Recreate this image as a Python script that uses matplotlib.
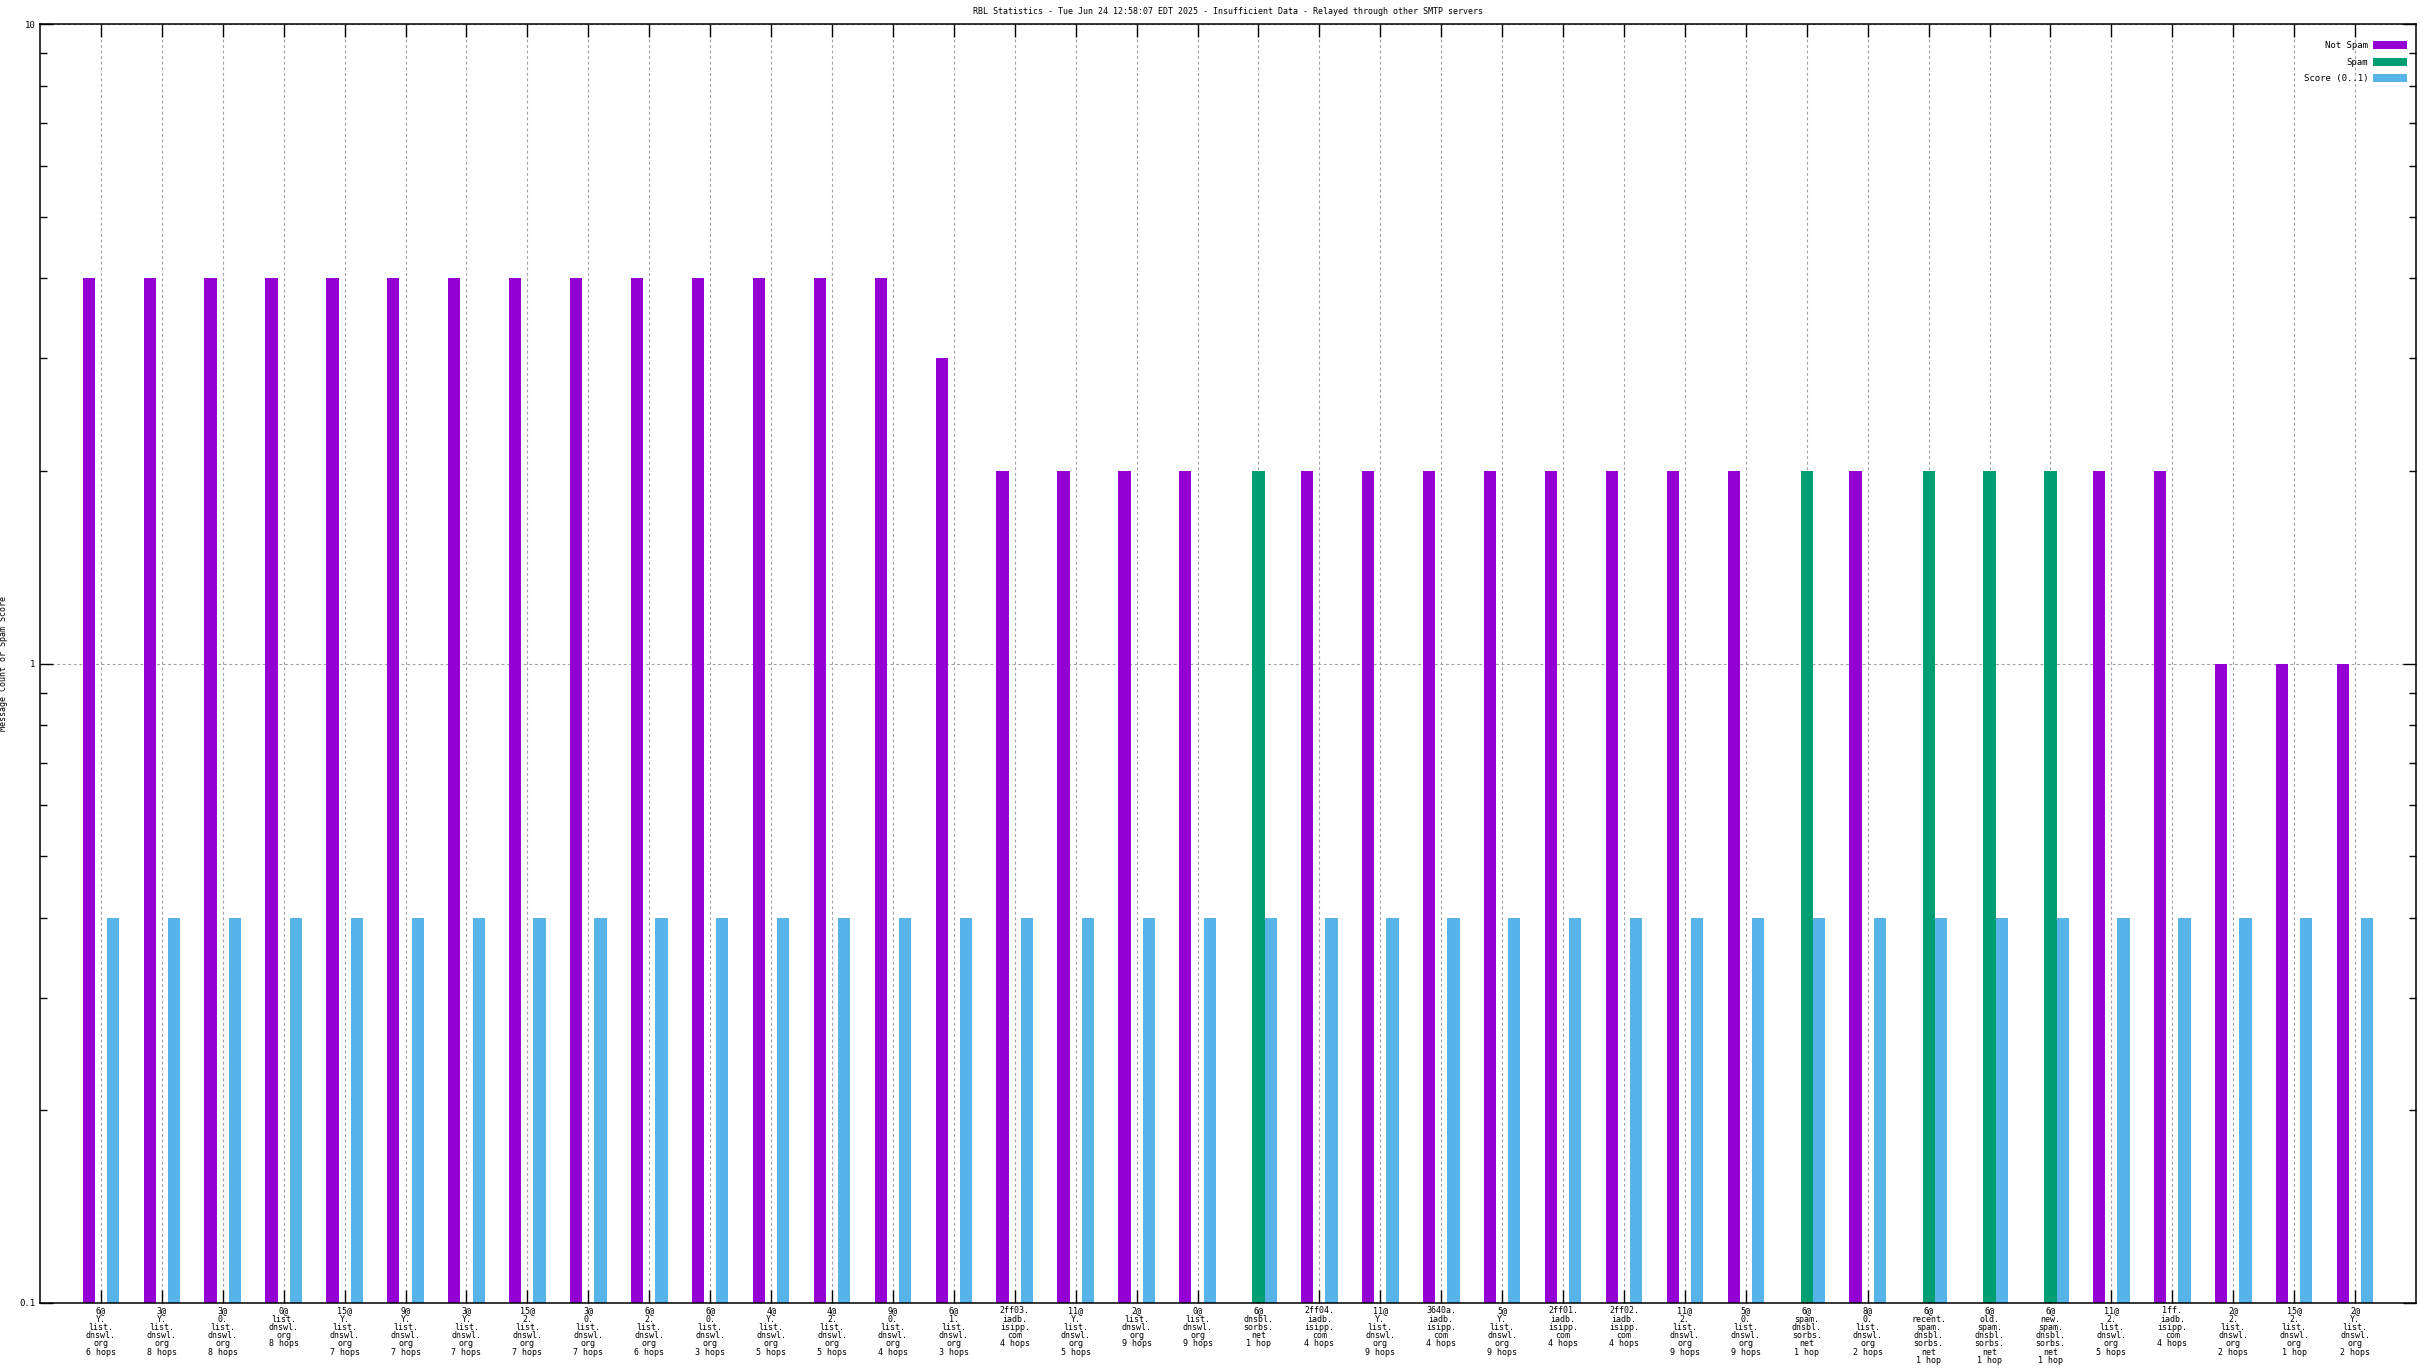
import matplotlib
matplotlib.use("Agg")
import matplotlib.pyplot as plt
import numpy as np
from matplotlib.ticker import FixedLocator, NullFormatter, LogLocator

# categories (x axis labels)
categories = [
    "6@\nY.\nlist.\ndnswl.\norg\n6 hops",
    "3@\nY.\nlist.\ndnswl.\norg\n8 hops",
    "3@\n0.\nlist.\ndnswl.\norg\n8 hops",
    "0@\nlist.\ndnswl.\norg\n8 hops",
    "15@\nY.\nlist.\ndnswl.\norg\n7 hops",
    "9@\nY.\nlist.\ndnswl.\norg\n7 hops",
    "3@\nY.\nlist.\ndnswl.\norg\n7 hops",
    "15@\n2.\nlist.\ndnswl.\norg\n7 hops",
    "3@\n0.\nlist.\ndnswl.\norg\n7 hops",
    "6@\n2.\nlist.\ndnswl.\norg\n6 hops",
    "6@\n0.\nlist.\ndnswl.\norg\n3 hops",
    "4@\nY.\nlist.\ndnswl.\norg\n5 hops",
    "4@\n2.\nlist.\ndnswl.\norg\n5 hops",
    "9@\n0.\nlist.\ndnswl.\norg\n4 hops",
    "6@\n1.\nlist.\ndnswl.\norg\n3 hops",
    "2ff03.\niadb.\nisipp.\ncom\n4 hops",
    "11@\nY.\nlist.\ndnswl.\norg\n5 hops",
    "2@\nlist.\ndnswl.\norg\n9 hops",
    "0@\nlist.\ndnswl.\norg\n9 hops",
    "6@\ndnsbl.\nsorbs.\nnet\n1 hop",
    "2ff04.\niadb.\nisipp.\ncom\n4 hops",
    "11@\nY.\nlist.\ndnswl.\norg\n9 hops",
    "3640a.\niadb.\nisipp.\ncom\n4 hops",
    "5@\nY.\nlist.\ndnswl.\norg\n9 hops",
    "2ff01.\niadb.\nisipp.\ncom\n4 hops",
    "2ff02.\niadb.\nisipp.\ncom\n4 hops",
    "11@\n2.\nlist.\ndnswl.\norg\n9 hops",
    "5@\n0.\nlist.\ndnswl.\norg\n9 hops",
    "6@\nspam.\ndnsbl.\nsorbs.\nnet\n1 hop",
    "8@\n0.\nlist.\ndnswl.\norg\n2 hops",
    "6@\nrecent.\nspam.\ndnsbl.\nsorbs.\nnet\n1 hop",
    "6@\nold.\nspam.\ndnsbl.\nsorbs.\nnet\n1 hop",
    "6@\nnew.\nspam.\ndnsbl.\nsorbs.\nnet\n1 hop",
    "11@\n2.\nlist.\ndnswl.\norg\n5 hops",
    "1ff.\niadb.\nisipp.\ncom\n4 hops",
    "2@\n2.\nlist.\ndnswl.\norg\n2 hops",
    "15@\n2.\nlist.\ndnswl.\norg\n1 hop",
    "2@\nY.\nlist.\ndnswl.\norg\n2 hops",
]

# series values (0 = no bar)
not_spam = [4, 4, 4, 4, 4, 4, 4, 4, 4, 4, 4, 4, 4, 4, 3,
            2, 2, 2, 2, 0, 2, 2, 2, 2, 2, 2, 2, 2, 0, 2,
            0, 0, 0, 2, 2, 1, 1, 1]
spam = [0, 0, 0, 0, 0, 0, 0, 0, 0, 0, 0, 0, 0, 0, 0,
        0, 0, 0, 0, 2, 0, 0, 0, 0, 0, 0, 0, 0, 2, 0,
        2, 2, 2, 0, 0, 0, 0, 0]
score = [0.4] * 38

title = ("RBL Statistics - Tue Jun 24 12:58:07 EDT 2025 - Insufficient Data - "
         "Relayed through other SMTP servers")

FONT = "DejaVu Sans Mono"
plt.rcParams["font.family"] = FONT
plt.rcParams["font.size"] = 6.5

fig = plt.figure(figsize=(24.32, 13.68), dpi=100)
ax = fig.add_axes([40 / 2432, 1 - 1303 / 1368, (2416 - 40) / 2432, (1303 - 24) / 1368])

x = np.arange(len(categories))
bar_width = 0.2

# zero counts are not drawn on the log axis
ns = np.where(np.array(not_spam) > 0, not_spam, np.nan)
sp = np.where(np.array(spam) > 0, spam, np.nan)

ax.bar(x - bar_width, ns, width=bar_width, color="#9400D3", label="Not Spam", zorder=2)
ax.bar(x, sp, width=bar_width, color="#009E73", label="Spam", zorder=2)
ax.bar(x + bar_width, score, width=bar_width, color="#56B4E9", label="Score (0..1)", zorder=2)

ax.set_yscale("log")
ax.set_ylim(0.1, 10)
ax.set_xlim(-1, len(categories))

ax.yaxis.set_major_locator(FixedLocator([0.1, 1, 10]))
ax.set_yticklabels(["0.1", "1", "10"])
ax.yaxis.set_minor_locator(LogLocator(base=10, subs=np.arange(2, 10)))
ax.yaxis.set_minor_formatter(NullFormatter())

ax.set_xticks(x)
ax.set_xticklabels(categories, linespacing=0.89, fontsize=6)

ax.tick_params(axis="both", which="major", direction="in", length=9.4, width=1,
               top=True, right=True, pad=3.5)
ax.tick_params(axis="y", which="minor", direction="in", length=4.7, width=1, right=True)
ax.tick_params(axis="x", which="major", pad=2.5)

for s in ax.spines.values():
    s.set_linewidth(1.1)

ax.grid(True, which="major", axis="both", color="#a0a0a0", linestyle=(0, (2.5, 2.5)),
        linewidth=0.8)
ax.set_axisbelow(True)

ax.set_ylabel("Message Count or Spam Score", fontsize=6)
ax.yaxis.set_label_coords(-32 / 2376, 0.5)
ax.set_title(title, pad=7, fontsize=6)

ax.legend(loc="upper right", bbox_to_anchor=(1 - 9 / 2376, 1 - 17 / 1279),
          frameon=False, markerfirst=False, borderpad=0, borderaxespad=0,
          handlelength=3.75, handleheight=1.0, handletextpad=0.55,
          labelspacing=0.82)

fig.savefig("out.png", dpi=100)
